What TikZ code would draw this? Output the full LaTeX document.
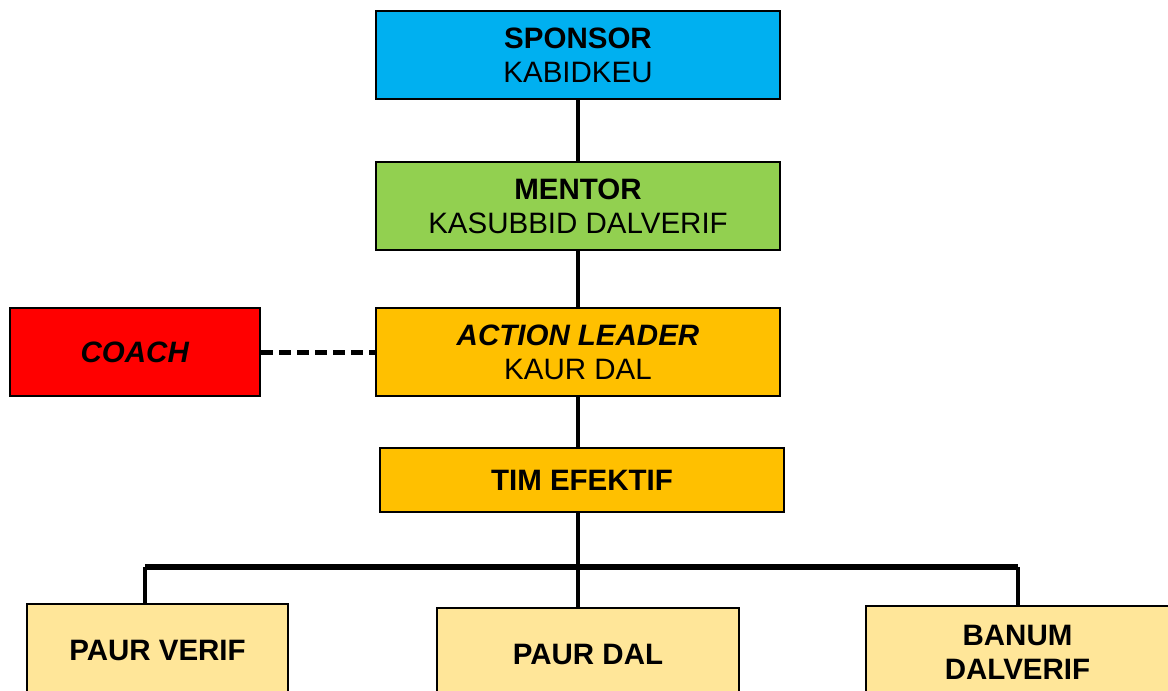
\documentclass[tikz,border=0pt]{standalone}
\usepackage{fontspec}
\setmainfont{Liberation Sans}
\definecolor{cblue}{HTML}{00B0F0}
\definecolor{cgreen}{HTML}{92D050}
\definecolor{corange}{HTML}{FFC000}
\definecolor{cred}{HTML}{FF0000}
\definecolor{clight}{HTML}{FFE699}
\begin{document}
\begin{tikzpicture}[x=1pt,y=1pt,
  box/.style={draw=black,line width=2.8pt,inner sep=0pt,align=center,
    font=\fontsize{29.5}{34}\selectfont},
  wide/.style={box,minimum width=404pt,minimum height=88pt},
  conn/.style={line width=4pt,black},
  barline/.style={line width=6pt,black},
  dashconn/.style={line width=5pt,black,dash pattern=on 12pt off 6pt}]
\useasboundingbox (0,0) rectangle (1168,-691);
\clip (0,0) rectangle (1168,-691);
\node[wide,fill=cblue] (sp) at (578,-55) {\textbf{SPONSOR}\\KABIDKEU};
\node[wide,fill=cgreen] (me) at (578,-206) {\textbf{MENTOR}\\KASUBBID DALVERIF};
\node[wide,fill=corange] (al) at (578,-352) {\textbf{\textit{ACTION LEADER}}\\KAUR DAL};
\node[box,fill=cred,minimum width=250pt,minimum height=88pt] (co) at (135,-352) {\textbf{\textit{COACH}}};
\node[box,fill=corange,minimum width=404pt,minimum height=64pt] (tim) at (582,-480) {\textbf{TIM EFEKTIF}};
\node[box,fill=clight,minimum width=261pt,minimum height=92pt] (pv) at (157.5,-650) {\textbf{PAUR VERIF}};
\node[box,fill=clight,minimum width=302pt,minimum height=92pt] (pd) at (588,-654) {\textbf{PAUR DAL}};
\node[box,fill=clight,minimum width=303pt,minimum height=92pt] (bn) at (1017.5,-652) {\textbf{BANUM}\\\textbf{DALVERIF}};
\coordinate (barL) at (145,-567);
\coordinate (barR) at (1018,-567);
\coordinate (barM) at (578,-567);
\draw[conn] (sp.south) -- (me.north);
\draw[conn] (me.south) -- (al.north);
\draw[conn] (al.south) -- (tim.north -| al.south);
\draw[conn] (tim.south -| al.south) -- (barM);
\draw[conn] (barM) -- (pd.north -| barM);
\draw[conn] (barL) -- (pv.north -| barL);
\draw[conn] (barR) -- (bn.north -| barR);
\draw[barline] (barL) -- (barR);
\draw[dashconn] (co.east) -- (al.west);
\end{tikzpicture}
\end{document}
